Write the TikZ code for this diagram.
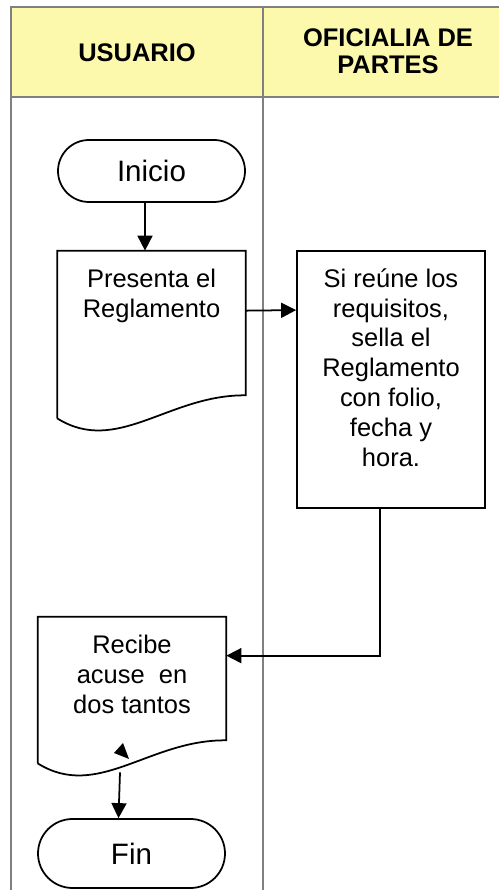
\documentclass[tikz,border=0pt]{standalone}
\usepackage{fontspec}
\setmainfont{Liberation Sans}
\usetikzlibrary{positioning, arrows.meta}

\definecolor{encabezado}{RGB}{252,249,172}

% hoja con borde ondulado
\newcommand{\hoja}[1]{%
    \draw[line width=1pt] (#1.south west) -- (#1.north west) -- (#1.north east)
        -- ([yshift=0.46cm]#1.south east)
        .. controls +(-1.54,0.02) and +(1.2,-0.75) .. (#1.south west);}

\begin{document}
\begin{tikzpicture}[
    carril/.style={draw=gray, line width=1.3pt},
    titulo/.style={align=center, font=\fontsize{14.5}{15.5}\selectfont\bfseries},
    terminal/.style={draw, line width=1pt, rounded corners=0.62cm, minimum width=3.74cm,
        font=\fontsize{16.8}{20}\selectfont},
    caja/.style={draw, line width=1pt, minimum width=3.76cm, inner sep=0},
    documento/.style={minimum width=3.76cm, inner sep=0},
    texto/.style={anchor=north, yshift=-0.36cm, inner sep=0, align=center,
        font=\fontsize{14.5}{17}\selectfont},
    flecha/.style={-{Triangle[length=0.3cm,width=0.3cm]}, line width=1pt}]
    \useasboundingbox (0,0) rectangle (9.98,17.8);

    % carriles
    \fill[encabezado] (0.22,15.86) rectangle (9.98,17.66);
    \draw[carril] (9.98,17.66) -- (0.22,17.66) -- (0.22,0);
    \draw[carril] (5.26,17.66) -- (5.26,0);
    \draw[carril] (0.22,15.86) -- (9.98,15.86);
    \node[titulo] (usuario) at (2.74,16.74) {USUARIO};
    \node[titulo] (oficialia) at (7.76,16.78) {OFICIALIA DE\\PARTES};

    % nodos
    \node[terminal, minimum height=1.24cm] (inicio) at (3.03,14.38) {Inicio};
    \node[documento, minimum height=3.34cm, label={[texto]north:{Presenta el\\Reglamento}}]
        (presenta) at (3.03,11.11) {};
    \hoja{presenta}
    \node[caja, minimum height=5.14cm,
        label={[texto]north:{Si reúne los\\requisitos,\\sella el\\Reglamento\\con folio,\\fecha y\\hora.}}]
        (sella) at (7.82,10.21) {};
    \node[documento, minimum height=2.92cm, label={[texto]north:{Recibe\\acuse\ \ en\\dos tantos}}]
        (recibe) at (2.64,4.0) {};
    \hoja{recibe}
    \fill (2.28,2.74) -- (2.46,2.94) -- (2.58,2.62) -- cycle;
    \node[terminal, minimum height=1.38cm, rounded corners=0.69cm] (fin) at (2.63,0.73) {Fin};

    % conectores
    \draw[flecha] ([xshift=-0.13cm]inicio.south) -- ([xshift=-0.13cm]presenta.north);
    \draw[flecha] ([yshift=-1.2cm]presenta.north east) -- ([yshift=-1.2cm]sella.north west);
    \draw[flecha] ([xshift=-0.22cm]sella.south) |- ([yshift=-0.78cm]recibe.north east);
    \draw[flecha] ([xshift=-0.24cm,yshift=-0.18cm]recibe.south) -- ([xshift=-0.26cm]fin.north);
\end{tikzpicture}
\end{document}
